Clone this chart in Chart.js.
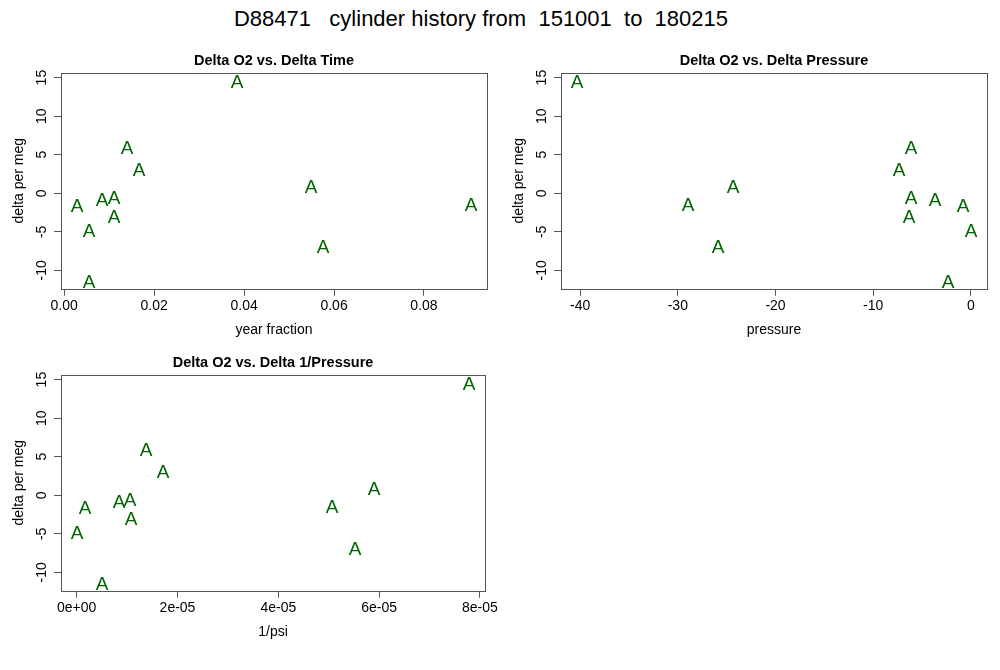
<!DOCTYPE html>
<html>
<head>
<meta charset="utf-8">
<script src="https://cdn.jsdelivr.net/npm/chart.js@4/dist/chart.umd.min.js"></script>
<style>
  body { margin: 0; background: #fff; }
  #page { position: relative; width: 1000px; height: 670px; overflow: hidden; }
  #mainTitle {
    position: absolute; left: 0; top: 6px; width: 962px; text-align: center;
    font: 22px "Liberation Sans", Arial, sans-serif; line-height: 26px;
    white-space: pre; color: #000;
  }
  canvas { position: absolute; }
</style>
</head>
<body>
<div id="page">
  <div id="mainTitle">D88471   cylinder history from  151001  to  180215</div>
  <canvas id="timeChart" width="500" height="310" style="left:0px;top:40px"></canvas>
  <canvas id="pressChart" width="500" height="310" style="left:500px;top:40px"></canvas>
  <canvas id="invChart" width="500" height="310" style="left:0px;top:342px"></canvas>
</div>
<script>
// values (same order in every list)
let deltaO2 = [14.6, 5.97, 3.21, 1.0, -1.34, -1.47, -0.73, -0.52, -2.9, -4.71, -6.8, -11.34];
let yearFrac = [0.0384, 0.0139, 0.0166, 0.0548, 0.0905, 0.0028, 0.0084, 0.0110, 0.0110, 0.0056, 0.0576, 0.0056];
let deltaPress = [-40.34, -6.17, -7.40, -24.32, -28.99, -0.85, -3.68, -6.17, -6.37, 0.03, -25.85, -2.39];
let deltaInvPress = [7.79e-5, 1.38e-5, 1.71e-5, 5.90e-5, 5.07e-5, 0.17e-5, 0.84e-5, 1.05e-5, 1.07e-5, 0.0, 5.53e-5, 0.51e-5];

// tick values and their labels
let yTicks = [-10, -5, 0, 5, 10, 15];
let yTickLabels = ["-10", "-5", "0", "5", "10", "15"];
let timeTicks = [0, 0.02, 0.04, 0.06, 0.08];
let timeTickLabels = ["0.00", "0.02", "0.04", "0.06", "0.08"];
let pressTicks = [-40, -30, -20, -10, 0];
let pressTickLabels = ["-40", "-30", "-20", "-10", "0"];
let invTicks = [0, 2e-5, 4e-5, 6e-5, 8e-5];
let invTickLabels = ["0e+00", "2e-05", "4e-05", "6e-05", "8e-05"];

let green = "#006400";
let boxColor = "#555";
let fontName = "'Liberation Sans', Arial, sans-serif";

// the letter "A" used as the plotting symbol
function letterSymbol(ch) {
  let c = document.createElement("canvas");
  c.width = 26;
  c.height = 26;
  let g = c.getContext("2d");
  g.font = "19px " + fontName;
  g.fillStyle = green;
  g.textAlign = "center";
  g.textBaseline = "alphabetic";
  let m = g.measureText(ch);
  let cap = m.actualBoundingBoxAscent || 13.6;
  g.fillText(ch, 13, Math.round(13 + cap / 2));
  return c;
}
let symbolA = letterSymbol("A");

// R style axis range: data range plus 4% each side
function rRange(values) {
  let lo = Math.min(...values);
  let hi = Math.max(...values);
  let pad = (hi - lo) * 0.04;
  return [lo - pad, hi + pad];
}

// box round the plot region, and whole-pixel symbols so the letters stay crisp
let boxPlugin = {
  id: "plotBox",
  beforeDatasetsDraw(chart) {
    chart.getDatasetMeta(0).data.forEach(function (pt) {
      pt.x = Math.round(pt.x);
      pt.y = Math.round(pt.y);
    });
  },
  afterDraw(chart) {
    let a = chart.chartArea;
    let ctx = chart.ctx;
    ctx.save();
    ctx.strokeStyle = boxColor;
    ctx.lineWidth = 1;
    ctx.strokeRect(Math.round(a.left) + 0.5, Math.round(a.top) + 0.5,
      Math.round(a.right - a.left), Math.round(a.bottom - a.top));
    ctx.restore();
  }
};

function makePanel(id, title, xValues, xTicks, xLabels, xTitle) {
  let canvas = document.getElementById(id);
  if (!canvas) {
    return;
  }
  let points = xValues.map(function (x, i) {
    return { x: x, y: deltaO2[i] };
  });
  let xr = rRange(xValues);
  let yr = rRange(deltaO2);

  return new Chart(canvas.getContext("2d"), {
    type: "scatter",
    data: {
      datasets: [{
        data: points,
        pointStyle: symbolA,
        pointRadius: 10,
        clip: false
      }]
    },
    plugins: [boxPlugin],
    options: {
      responsive: false,
      animation: false,
      events: [],
      layout: { padding: { left: 0, right: 13, top: 0, bottom: 0 } },
      plugins: {
        legend: { display: false },
        tooltip: { enabled: false },
        title: {
          display: true,
          text: title,
          fullSize: false,
          color: "#000",
          font: { family: fontName, size: 14.5, weight: "bold", lineHeight: 1.2 },
          padding: { top: 12.3, bottom: 3 }
        }
      },
      scales: {
        x: {
          type: "linear",
          min: xr[0],
          max: xr[1],
          afterBuildTicks: function (scale) {
            scale.ticks = xTicks.map(function (v) { return { value: v }; });
          },
          afterFit: function (scale) { scale.height = 61.3; },
          border: { display: false },
          grid: { drawOnChartArea: false, drawTicks: true, tickLength: 7, color: boxColor },
          ticks: {
            color: "#000",
            padding: 2,
            maxRotation: 0,
            autoSkip: false,
            font: { family: fontName, size: 14 },
            callback: function (value, index) { return xLabels[index]; }
          },
          title: {
            display: true,
            text: xTitle,
            color: "#000",
            font: { family: fontName, size: 14, lineHeight: 1.2 },
            padding: { top: 0, bottom: 11.8 }
          }
        },
        y: {
          type: "linear",
          min: yr[0],
          max: yr[1],
          afterBuildTicks: function (scale) {
            scale.ticks = yTicks.map(function (v) { return { value: v }; });
          },
          afterFit: function (scale) { scale.width = 61; },
          border: { display: false },
          grid: { drawOnChartArea: false, drawTicks: true, tickLength: 7, color: boxColor },
          ticks: {
            color: "#000",
            padding: 2.2,
            minRotation: 90,
            maxRotation: 90,
            crossAlign: "center",
            autoSkip: false,
            font: { family: fontName, size: 14 },
            callback: function (value, index) { return yTickLabels[index]; }
          },
          title: {
            display: true,
            text: "delta per meg",
            color: "#000",
            font: { family: fontName, size: 14, lineHeight: 1.2 },
            padding: { top: 10.6, bottom: 0 }
          }
        }
      }
    }
  });
}

makePanel("timeChart", "Delta O2 vs. Delta Time", yearFrac, timeTicks, timeTickLabels, "year fraction");
makePanel("pressChart", "Delta O2 vs. Delta Pressure", deltaPress, pressTicks, pressTickLabels, "pressure");
makePanel("invChart", "Delta O2 vs. Delta 1/Pressure", deltaInvPress, invTicks, invTickLabels, "1/psi");
</script>
</body>
</html>
